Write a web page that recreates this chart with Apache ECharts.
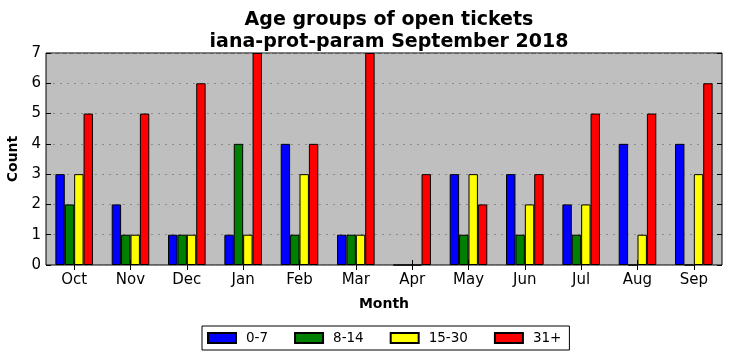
<!DOCTYPE html>
<html><head><meta charset="utf-8">
<script src="https://cdn.jsdelivr.net/npm/echarts@6/dist/echarts.min.js"></script>
<style>html,body{margin:0;padding:0;background:#fff}#c{width:732px;height:361px}</style>
</head><body><div id="c"></div>
<script>
const months = ['Oct','Nov','Dec','Jan','Feb','Mar','Apr','May','Jun','Jul','Aug','Sep'];
const s0_7   = [3,2,1,1,4,1,0,3,3,2,4,4];
const s8_14  = [2,1,1,4,1,1,0,1,1,1,0,0];
const s15_30 = [3,1,1,1,3,1,0,3,2,2,1,3];
const s31p   = [5,5,6,7,4,7,3,2,3,5,5,6];
const yTicks = [0,1,2,3,4,5,6,7];

const F = 'DejaVu Sans';
const chart = echarts.init(document.getElementById('c'));
function bar(name, data, color){
  return {name, type:'bar', data, barGap:'0%', barCategoryGap:'33.3%',
    itemStyle:{color, borderColor:'#000', borderWidth:1}, animation:false};
}
chart.setOption({
  animation:false,
  title:{text:'Age groups of open tickets\niana-prot-param September 2018', left:384, top:4, textAlign:'center',
    textStyle:{fontFamily:F, fontSize:19, fontWeight:'bold', color:'#000', lineHeight:22}},
  grid:{left:46, right:10, top:53, bottom:96, outerBoundsMode:'none', containLabel:false,
    backgroundColor:'#bfbfbf', borderColor:'#000', borderWidth:1, show:true},
  legend:{bottom:11, left:202, itemWidth:28, itemHeight:10, itemGap:26, borderColor:'#000', borderWidth:1,
    padding:[5,8,5,5], borderRadius:0,
    textStyle:{fontFamily:F, fontSize:13.5, color:'#000', padding:[0,0,0,5]}, icon:'rect',
    data:['0-7','8-14','15-30','31+']},
  xAxis:[{type:'category', data:months, position:'bottom', name:'Month', nameLocation:'middle', nameGap:32,
    nameTextStyle:{fontFamily:F, fontSize:14, fontWeight:'bold', color:'#000'},
    axisLine:{show:false}, axisTick:{show:true, inside:true, alignWithLabel:true, length:5, lineStyle:{color:'#000'}},
    axisLabel:{fontFamily:F, fontSize:15, color:'#000', margin:8}},
   {type:'category', data:months, position:'top', axisLine:{show:false},
    axisTick:{show:true, inside:true, alignWithLabel:true, length:5, lineStyle:{color:'#000'}}, axisLabel:{show:false}}],
  yAxis:[{type:'value', min:0, max:7, interval:1, name:'Count', nameLocation:'middle', nameGap:23,
    nameTextStyle:{fontFamily:F, fontSize:14, fontWeight:'bold', color:'#000'},
    axisLine:{show:false}, axisTick:{show:true, inside:true, length:5, lineStyle:{color:'#000'}},
    axisLabel:{fontFamily:F, fontSize:15, color:'#000', margin:5, formatter:v=>yTicks.includes(v)?String(v):''},
    splitLine:{show:true, lineStyle:{color:'#8a8a8a', type:[2,5], width:1}}},
   {type:'value', min:0, max:7, interval:1, position:'right', axisLine:{show:false},
    axisTick:{show:true, inside:true, length:5, lineStyle:{color:'#000'}}, axisLabel:{show:false}, splitLine:{show:false}}],
  series:[bar('0-7', s0_7, '#0000ff'), bar('8-14', s8_14, '#008000'), bar('15-30', s15_30, '#ffff00'), bar('31+', s31p, '#ff0000')]
});
</script></body></html>
